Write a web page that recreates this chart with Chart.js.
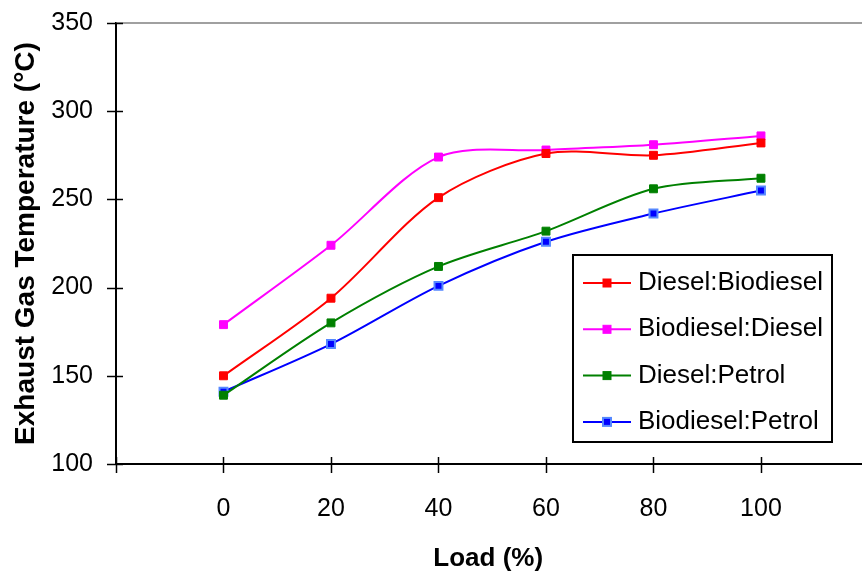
<!DOCTYPE html>
<html>
<head>
<meta charset="utf-8">
<script src="https://cdn.jsdelivr.net/npm/chart.js@4.4.0/dist/chart.umd.min.js"></script>
<style>
  html, body { margin: 0; padding: 0; background: #fff; overflow: hidden; }
  #wrap { width: 868px; height: 574px; position: relative; }
</style>
</head>
<body>
<div id="wrap"><canvas id="exhaust-temp" width="868" height="574"></canvas></div>
<script>
// load levels (%) and exhaust gas temperature (°C)
const loads = [0, 20, 40, 60, 80, 100];
const seriesNames = ['Diesel:Biodiesel', 'Biodiesel:Diesel', 'Diesel:Petrol', 'Biodiesel:Petrol'];
const dieselBiodiesel = [150, 194, 251, 276, 275, 282];
const biodieselDiesel = [179, 224, 274, 278, 281, 286];
const dieselPetrol = [139, 180, 212, 232, 256, 262];
const biodieselPetrol = [141, 168, 201, 226, 242, 255];
const xTicks = [-20, 0, 20, 40, 60, 80, 100];
const xLabelled = [0, 20, 40, 60, 80, 100];
const yTicks = [100, 150, 200, 250, 300, 350];

const FONT = "'Liberation Sans', Arial, sans-serif";

function toPoints(values) {
  return loads.map((l, i) => ({ x: l, y: values[i] }));
}

function series(label, values, color, markerBorder, markerBorderWidth) {
  return {
    label: label,
    data: toPoints(values),
    borderColor: color,
    backgroundColor: color,
    borderWidth: 2,
    tension: 0.3,
    pointStyle: 'rect',
    pointRadius: 5.6,
    pointBackgroundColor: color,
    pointBorderColor: markerBorder,
    pointBorderWidth: markerBorderWidth,
    fill: false
  };
}

// crossing tick marks, top frame line and the boxed legend
const axisDecor = {
  id: 'axisDecor',
  afterDraw(chart) {
    const ctx = chart.ctx;
    const xs = chart.scales.x, ys = chart.scales.y;
    const left = chart.chartArea.left, bottom = chart.chartArea.bottom;
    ctx.save();
    ctx.strokeStyle = '#808080';
    ctx.lineWidth = 1.5;
    const topY = ys.getPixelForValue(350);
    ctx.beginPath();
    ctx.moveTo(left, topY);
    ctx.lineTo(chart.width, topY);
    ctx.stroke();

    // x axis runs on to the edge of the picture
    ctx.strokeStyle = '#000';
    ctx.lineWidth = 2;
    ctx.beginPath();
    ctx.moveTo(left, bottom);
    ctx.lineTo(chart.width, bottom);
    ctx.stroke();

    ctx.lineWidth = 1.5;
    yTicks.forEach(v => {
      const y = Math.round(ys.getPixelForValue(v)) + 0.5;
      ctx.beginPath();
      ctx.moveTo(left - 9, y);
      ctx.lineTo(left + 7, y);
      ctx.stroke();
    });
    xTicks.forEach(v => {
      const x = Math.round(xs.getPixelForValue(v)) + 0.5;
      ctx.beginPath();
      ctx.moveTo(x, bottom - 7);
      ctx.lineTo(x, bottom + 9);
      ctx.stroke();
    });

    // legend
    const bx = 573, by = 255, bw = 259, bh = 187;
    ctx.fillStyle = '#fff';
    ctx.fillRect(bx, by, bw, bh);
    ctx.strokeStyle = '#000';
    ctx.lineWidth = 2;
    ctx.strokeRect(bx, by, bw, bh);
    ctx.font = '26px ' + FONT;
    ctx.textBaseline = 'middle';
    ctx.textAlign = 'left';
    chart.data.datasets.forEach((ds, i) => {
      const y = 283 + i * 46.3;
      ctx.strokeStyle = ds.borderColor;
      ctx.lineWidth = 2;
      ctx.beginPath();
      ctx.moveTo(583, y);
      ctx.lineTo(631, y);
      ctx.stroke();
      ctx.fillStyle = ds.pointBackgroundColor;
      ctx.fillRect(603, y - 4, 8, 8);
      ctx.strokeStyle = ds.pointBorderColor;
      ctx.lineWidth = ds.pointBorderWidth;
      ctx.strokeRect(603, y - 4, 8, 8);
      ctx.fillStyle = '#000';
      ctx.fillText(ds.label, 638, y);
    });
    ctx.restore();
  }
};

new Chart(document.getElementById('exhaust-temp'), {
  type: 'line',
  data: {
    datasets: [
      series(seriesNames[0], dieselBiodiesel, '#ff0000', '#ff0000', 1),
      series(seriesNames[1], biodieselDiesel, '#ff00ff', '#ff00ff', 1),
      series(seriesNames[2], dieselPetrol, '#008000', '#008000', 1),
      series(seriesNames[3], biodieselPetrol, '#0000ff', '#5588ff', 2)
    ]
  },
  options: {
    responsive: false,
    animation: false,
    devicePixelRatio: 1,
    layout: { padding: { top: 23, left: 0, right: 0, bottom: 0 } },
    plugins: {
      legend: { display: false },
      tooltip: { enabled: false }
    },
    scales: {
      x: {
        type: 'linear',
        min: -20,
        max: 118.5,
        afterFit: s => { s.height = 110; s.paddingLeft = 0; s.paddingRight = 0; },
        afterBuildTicks: s => { s.ticks = xTicks.map(v => ({ value: v })); },
        grid: { display: false },
        border: { display: true, color: '#000', width: 2 },
        ticks: {
          padding: 22,
          color: '#000',
          font: { family: FONT, size: 25 },
          maxRotation: 0,
          autoSkip: false,
          callback: v => xLabelled.includes(v) ? String(v) : ''
        },
        title: {
          display: true,
          text: 'Load (%)',
          color: '#000',
          font: { family: FONT, size: 26, weight: 'bold' },
          padding: { top: 0, bottom: 0 }
        }
      },
      y: {
        min: 100,
        max: 350,
        afterFit: s => { s.width = 116; s.paddingTop = 0; s.paddingBottom = 0; },
        afterBuildTicks: s => { s.ticks = yTicks.map(v => ({ value: v })); },
        grid: { display: false },
        border: { display: true, color: '#000', width: 2 },
        ticks: {
          padding: 15,
          color: '#000',
          font: { family: FONT, size: 25 }
        },
        title: {
          display: true,
          text: 'Exhaust Gas Temperature (°C)',
          color: '#000',
          font: { family: FONT, size: 28, weight: 'bold' },
          padding: { top: 9, bottom: 0 }
        }
      }
    }
  },
  plugins: [axisDecor]
});
</script>
</body>
</html>
